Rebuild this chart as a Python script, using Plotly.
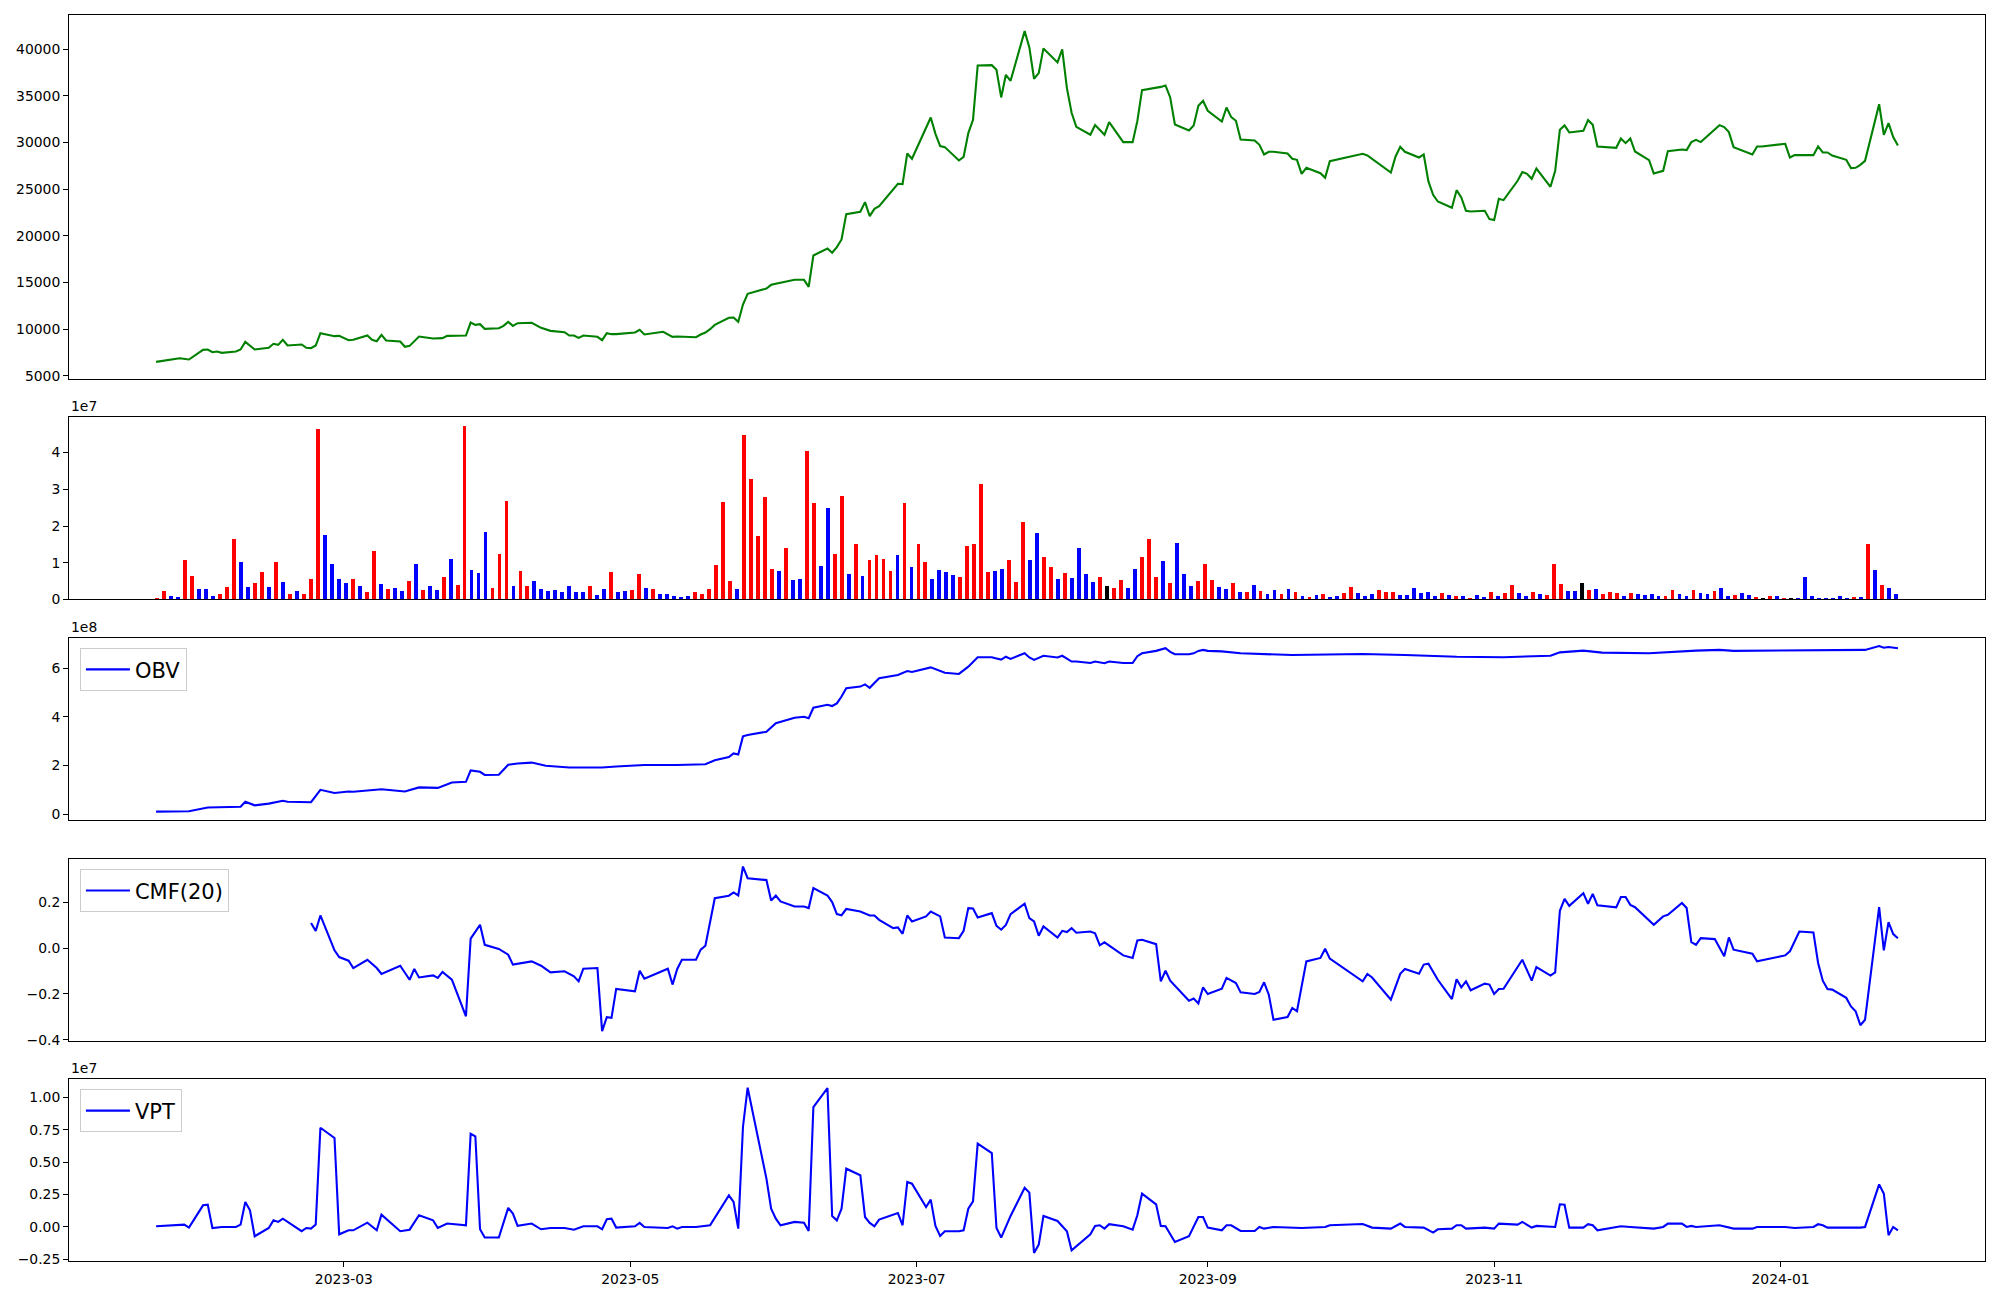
import plotly.graph_objects as go

# ---------------- data ----------------
price_dates = """2023-01-20 2023-01-25 2023-01-27 2023-01-30 2023-01-31 2023-02-01 2023-02-02 2023-02-03 2023-02-06 2023-02-07
2023-02-08 2023-02-10 2023-02-13 2023-02-14 2023-02-15 2023-02-16 2023-02-17 2023-02-20 2023-02-21 2023-02-22
2023-02-23 2023-02-24 2023-02-27 2023-02-28 2023-03-02 2023-03-03 2023-03-06 2023-03-07 2023-03-08 2023-03-09
2023-03-10 2023-03-13 2023-03-14 2023-03-15 2023-03-17 2023-03-20 2023-03-22 2023-03-23 2023-03-27 2023-03-28
2023-03-29 2023-03-30 2023-03-31 2023-04-03 2023-04-04 2023-04-05 2023-04-06 2023-04-07 2023-04-10 2023-04-12
2023-04-14 2023-04-17 2023-04-18 2023-04-19 2023-04-20 2023-04-21 2023-04-24 2023-04-25 2023-04-26 2023-04-27
2023-04-28 2023-05-02 2023-05-03 2023-05-04 2023-05-08 2023-05-10 2023-05-11 2023-05-15 2023-05-16 2023-05-17
2023-05-18 2023-05-19 2023-05-22 2023-05-23 2023-05-24 2023-05-25 2023-05-26 2023-05-30 2023-05-31 2023-06-02
2023-06-05 2023-06-07 2023-06-08 2023-06-09 2023-06-12 2023-06-13 2023-06-14 2023-06-15 2023-06-16 2023-06-19
2023-06-20 2023-06-21 2023-06-22 2023-06-23 2023-06-27 2023-06-28 2023-06-29 2023-06-30 2023-07-04 2023-07-05
2023-07-06 2023-07-07 2023-07-10 2023-07-11 2023-07-12 2023-07-13 2023-07-14 2023-07-17 2023-07-18 2023-07-19
2023-07-20 2023-07-21 2023-07-24 2023-07-25 2023-07-26 2023-07-27 2023-07-28 2023-07-31 2023-08-01 2023-08-02
2023-08-03 2023-08-04 2023-08-07 2023-08-08 2023-08-10 2023-08-11 2023-08-14 2023-08-16 2023-08-17 2023-08-18
2023-08-21 2023-08-22 2023-08-23 2023-08-24 2023-08-25 2023-08-28 2023-08-29 2023-08-30 2023-08-31 2023-09-01
2023-09-04 2023-09-05 2023-09-06 2023-09-07 2023-09-08 2023-09-11 2023-09-12 2023-09-13 2023-09-14 2023-09-15
2023-09-18 2023-09-19 2023-09-20 2023-09-21 2023-09-22 2023-09-25 2023-09-26 2023-09-27 2023-10-04 2023-10-05
2023-10-10 2023-10-11 2023-10-12 2023-10-13 2023-10-16 2023-10-17 2023-10-18 2023-10-19 2023-10-20 2023-10-23
2023-10-24 2023-10-25 2023-10-26 2023-10-27 2023-10-30 2023-10-31 2023-11-01 2023-11-02 2023-11-03 2023-11-06
2023-11-07 2023-11-08 2023-11-09 2023-11-10 2023-11-13 2023-11-14 2023-11-15 2023-11-16 2023-11-17 2023-11-20
2023-11-21 2023-11-22 2023-11-23 2023-11-27 2023-11-28 2023-11-29 2023-11-30 2023-12-01 2023-12-04 2023-12-05
2023-12-07 2023-12-08 2023-12-11 2023-12-12 2023-12-13 2023-12-14 2023-12-15 2023-12-19 2023-12-20 2023-12-21
2023-12-22 2023-12-26 2023-12-27 2023-12-28 2024-01-02 2024-01-03 2024-01-04 2024-01-08 2024-01-09 2024-01-10
2024-01-11 2024-01-12 2024-01-15 2024-01-16 2024-01-17 2024-01-18 2024-01-19 2024-01-22 2024-01-23 2024-01-24
2024-01-25 2024-01-26""".split()

price_close = [
    6500, 6890, 6750, 7785, 7820, 7535, 7600, 7465, 7600, 7820,
    8640, 7820, 8000, 8430, 8320, 8860, 8250, 8360, 8000, 7965,
    8250, 9570, 9250, 9285, 8820, 8860, 9320, 8860, 8710, 9390,
    8785, 8680, 8110, 8210, 9215, 9000, 9035, 9285, 9320, 10710,
    10460, 10535, 10035, 10105, 10355, 10785, 10355, 10640, 10680, 10140,
    9820, 9680, 9320, 9320, 9070, 9320, 9180, 8820, 9570, 9465,
    9465, 9640, 9930, 9430, 9715, 9180, 9215, 9140, 9430, 9640,
    10000, 10460, 11215, 11250, 10785, 12640, 13785, 14355, 14750, 14960,
    15285, 15285, 14535, 17890, 18640, 18180, 18785, 19605, 22320, 22570,
    23605, 22105, 22890, 23175, 25570, 25535, 28820, 28250, 32675, 30925,
    29605, 29500, 28070, 28460, 31000, 32425, 38245, 38280, 37780, 34820,
    37245, 36600, 41925, 40175, 36820, 37425, 40070, 38570, 39960, 35820,
    33175, 31675, 30820, 31855, 30820, 32175, 30030, 30030, 32280, 35600,
    35820, 35950, 36100, 34820, 31925, 31280, 31820, 33925, 34460, 33390,
    32245, 33745, 32710, 32320, 30320, 30210, 29750, 28710, 29000, 29000,
    28820, 28250, 28140, 26640, 27280, 26710, 26210, 28000, 28780, 28600,
    26780, 28500, 29535, 29000, 28390, 28710, 25820, 24390, 23675, 23000,
    24890, 24105, 22680, 22605, 22680, 21785, 21680, 23960, 23820, 25890,
    26820, 26640, 26105, 27210, 25250, 26960, 31355, 31820, 31070, 31245,
    32390, 31890, 29570, 29425, 30425, 29925, 30425, 29030, 28105, 26675,
    26960, 29070, 29250, 29175, 30035, 30280, 30035, 31855, 31640, 31105,
    29500, 28710, 29570, 29570, 29855, 28390, 28640, 28640, 29570, 28925,
    28925, 28600, 28140, 27250, 27280, 27600, 28030, 34100, 30820, 32070,
    30570, 29675,
]

# volume per trading session (units of 1e7), in session order
volume_1e7 = [
    0.055, 0.25, 0.11, 0.08, 1.10, 0.66, 0.30, 0.30, 0.11, 0.16,
    0.36, 1.67, 1.04, 0.36, 0.47, 0.77, 0.36, 1.04, 0.49, 0.16,
    0.25, 0.16, 0.58, 4.66, 1.78, 0.99, 0.58, 0.47, 0.58, 0.38,
    0.22, 1.34, 0.44, 0.30, 0.33, 0.25, 0.52, 0.99, 0.27, 0.38,
    0.27, 0.63, 1.12, 0.41, 4.74, 0.82, 0.74, 1.84, 0.33, 1.26,
    2.68, 0.38, 0.79, 0.38, 0.52, 0.30, 0.25, 0.27, 0.22, 0.38,
    0.22, 0.22, 0.38, 0.14, 0.30, 0.77, 0.22, 0.25, 0.27, 0.71,
    0.33, 0.30, 0.16, 0.16, 0.11, 0.08, 0.11, 0.22, 0.16, 0.30,
    0.96, 2.66, 0.52, 0.30, 4.49, 3.29, 1.73, 2.79, 0.85, 0.79,
    1.42, 0.55, 0.58, 4.05, 2.63, 0.93, 2.49, 1.26, 2.82, 0.71,
    1.51, 0.66, 1.10, 1.21, 1.12, 0.79, 1.23, 2.63, 0.90, 1.51,
    1.04, 0.58, 0.82, 0.77, 0.68, 0.63, 1.48, 1.53, 3.15, 0.77,
    0.79, 0.85, 1.10, 0.49, 2.11, 1.10, 1.81, 1.18, 0.90, 0.58,
    0.74, 0.60, 1.42, 0.71, 0.49, 0.63, 0.38, 0.33, 0.55, 0.33,
    0.85, 1.18, 1.67, 0.63, 1.07, 0.47, 1.56, 0.71, 0.38, 0.52,
    0.99, 0.55, 0.36, 0.30, 0.47, 0.22, 0.22, 0.41, 0.25, 0.16,
    0.27, 0.16, 0.30, 0.22, 0.11, 0.08, 0.14, 0.16, 0.08, 0.11,
    0.19, 0.36, 0.19, 0.11, 0.16, 0.27, 0.22, 0.22, 0.14, 0.14,
    0.33, 0.19, 0.22, 0.11, 0.19, 0.14, 0.11, 0.11, 0.055, 0.14,
    0.08, 0.22, 0.11, 0.19, 0.41, 0.19, 0.11, 0.22, 0.16, 0.14,
    0.99, 0.44, 0.25, 0.25, 0.47, 0.27, 0.30, 0.16, 0.22, 0.19,
    0.11, 0.19, 0.16, 0.14, 0.16, 0.11, 0.11, 0.27, 0.16, 0.11,
    0.27, 0.19, 0.16, 0.25, 0.33, 0.11, 0.14, 0.19, 0.14, 0.08,
    0.055, 0.11, 0.11, 0.055, 0.03, 0.055, 0.63, 0.11, 0.055, 0.055,
    0.055, 0.11, 0.055, 0.08, 0.08, 1.51, 0.82, 0.41, 0.33, 0.16,
]
# session direction: u = close up, d = close down, f = unchanged
volume_dir = "".join([
    "uudduudddu", "uudduududu", "duuuddddud", "uududdudud", "duduuddduu",
    "uduudddddd", "ddudduddu" "u", "duddddduuu", "uuuduuuuud", "udduudduud",
    "uduuuududu", "udddduuuuu", "dduuudduud", "uddddufuud", "duuududddu",
    "uuddududud", "dududududd", "uuddduuudd", "ddddududud", "duduuddudu",
    "uuddfuduuu", "dudddduudd", "uddudduddu", "fudufddddd", "dddudududd",
])

obv_dates = """2023-01-20 2023-01-27 2023-01-31 2023-02-07 2023-02-08 2023-02-10 2023-02-13 2023-02-16 2023-02-17 2023-02-22
2023-02-24 2023-02-27 2023-03-02 2023-03-03 2023-03-09 2023-03-14 2023-03-17 2023-03-21 2023-03-24 2023-03-27
2023-03-28 2023-03-30 2023-03-31 2023-04-03 2023-04-05 2023-04-07 2023-04-10 2023-04-13 2023-04-18 2023-04-25
2023-04-28 2023-05-04 2023-05-11 2023-05-17 2023-05-19 2023-05-22 2023-05-23 2023-05-24 2023-05-25 2023-05-26
2023-05-30 2023-06-01 2023-06-05 2023-06-07 2023-06-08 2023-06-09 2023-06-12 2023-06-13 2023-06-14 2023-06-15
2023-06-16 2023-06-19 2023-06-20 2023-06-21 2023-06-23 2023-06-27 2023-06-29 2023-06-30 2023-07-04 2023-07-07
2023-07-10 2023-07-12 2023-07-14 2023-07-17 2023-07-18 2023-07-19 2023-07-20 2023-07-21 2023-07-24 2023-07-25
2023-07-26 2023-07-27 2023-07-28 2023-07-31 2023-08-01 2023-08-02 2023-08-03 2023-08-04 2023-08-07 2023-08-08
2023-08-10 2023-08-11 2023-08-14 2023-08-16 2023-08-17 2023-08-18 2023-08-21 2023-08-23 2023-08-24 2023-08-25
2023-08-28 2023-08-29 2023-08-30 2023-08-31 2023-09-01 2023-09-04 2023-09-08 2023-09-19 2023-10-04 2023-10-13
2023-10-24 2023-11-03 2023-11-13 2023-11-15 2023-11-20 2023-11-24 2023-12-04 2023-12-14 2023-12-19 2023-12-22
2024-01-08 2024-01-19 2024-01-22 2024-01-23 2024-01-24 2024-01-26""".split()
obv_1e8 = [
    0.10, 0.12, 0.27, 0.30, 0.51, 0.36, 0.43, 0.55, 0.51, 0.49,
    1.00, 0.87, 0.93, 0.92, 1.02, 0.93, 1.10, 1.08, 1.30, 1.33,
    1.80, 1.74, 1.61, 1.62, 2.03, 2.08, 2.12, 1.99, 1.92, 1.92,
    1.96, 2.02, 2.02, 2.05, 2.22, 2.35, 2.50, 2.45, 3.20, 3.26,
    3.39, 3.74, 3.97, 4.01, 3.95, 4.38, 4.50, 4.45, 4.56, 4.84,
    5.18, 5.25, 5.34, 5.20, 5.59, 5.73, 5.89, 5.85, 6.04, 5.82,
    5.77, 6.07, 6.46, 6.46, 6.41, 6.36, 6.48, 6.39, 6.62, 6.45,
    6.35, 6.43, 6.52, 6.45, 6.52, 6.40, 6.28, 6.28, 6.22, 6.28,
    6.21, 6.28, 6.22, 6.22, 6.50, 6.62, 6.72, 6.83, 6.68, 6.58,
    6.58, 6.62, 6.72, 6.76, 6.72, 6.70, 6.62, 6.55, 6.59, 6.55,
    6.48, 6.46, 6.52, 6.66, 6.73, 6.65, 6.62, 6.73, 6.76, 6.72,
    6.76, 6.76, 6.92, 6.85, 6.88, 6.83,
]

cmf_dates = """2023-02-22 2023-02-23 2023-02-24 2023-02-27 2023-02-28 2023-03-02 2023-03-03 2023-03-06 2023-03-08 2023-03-09
2023-03-13 2023-03-15 2023-03-16 2023-03-17 2023-03-20 2023-03-21 2023-03-22 2023-03-24 2023-03-27 2023-03-28
2023-03-30 2023-03-31 2023-04-03 2023-04-05 2023-04-06 2023-04-10 2023-04-12 2023-04-14 2023-04-17 2023-04-19
2023-04-20 2023-04-21 2023-04-24 2023-04-25 2023-04-26 2023-04-27 2023-04-28 2023-05-02 2023-05-03 2023-05-04
2023-05-09 2023-05-10 2023-05-11 2023-05-12 2023-05-15 2023-05-16 2023-05-17 2023-05-19 2023-05-22 2023-05-23
2023-05-24 2023-05-25 2023-05-26 2023-05-30 2023-05-31 2023-06-01 2023-06-02 2023-06-05 2023-06-07 2023-06-08
2023-06-09 2023-06-12 2023-06-13 2023-06-14 2023-06-15 2023-06-16 2023-06-19 2023-06-21 2023-06-22 2023-06-23
2023-06-26 2023-06-27 2023-06-28 2023-06-29 2023-06-30 2023-07-03 2023-07-04 2023-07-06 2023-07-07 2023-07-10
2023-07-11 2023-07-12 2023-07-13 2023-07-14 2023-07-17 2023-07-18 2023-07-19 2023-07-20 2023-07-21 2023-07-24
2023-07-25 2023-07-26 2023-07-27 2023-07-28 2023-07-31 2023-08-01 2023-08-02 2023-08-03 2023-08-04 2023-08-07
2023-08-08 2023-08-09 2023-08-10 2023-08-14 2023-08-16 2023-08-17 2023-08-18 2023-08-21 2023-08-22 2023-08-23
2023-08-24 2023-08-28 2023-08-29 2023-08-30 2023-08-31 2023-09-01 2023-09-04 2023-09-05 2023-09-07 2023-09-08
2023-09-11 2023-09-12 2023-09-13 2023-09-14 2023-09-15 2023-09-18 2023-09-19 2023-09-20 2023-09-22 2023-09-25
2023-09-26 2023-09-27 2023-10-04 2023-10-05 2023-10-06 2023-10-10 2023-10-12 2023-10-13 2023-10-16 2023-10-17
2023-10-18 2023-10-20 2023-10-23 2023-10-24 2023-10-25 2023-10-26 2023-10-27 2023-10-30 2023-10-31 2023-11-01
2023-11-02 2023-11-03 2023-11-07 2023-11-09 2023-11-10 2023-11-13 2023-11-14 2023-11-15 2023-11-16 2023-11-17
2023-11-20 2023-11-21 2023-11-22 2023-11-23 2023-11-27 2023-11-28 2023-11-29 2023-11-30 2023-12-01 2023-12-05
2023-12-07 2023-12-08 2023-12-11 2023-12-12 2023-12-13 2023-12-14 2023-12-15 2023-12-18 2023-12-20 2023-12-21
2023-12-22 2023-12-26 2023-12-27 2024-01-02 2024-01-03 2024-01-04 2024-01-05 2024-01-08 2024-01-09 2024-01-10
2024-01-11 2024-01-12 2024-01-15 2024-01-16 2024-01-17 2024-01-18 2024-01-19 2024-01-22 2024-01-23 2024-01-24
2024-01-25 2024-01-26""".split()
cmf_20 = [
    0.109, 0.075, 0.142, -0.010, -0.039, -0.055, -0.087, -0.051, -0.087, -0.113,
    -0.077, -0.138, -0.091, -0.128, -0.119, -0.130, -0.104, -0.138, -0.297, 0.041,
    0.101, 0.014, -0.004, -0.029, -0.072, -0.058, -0.077, -0.106, -0.101, -0.123,
    -0.145, -0.090, -0.087, -0.362, -0.301, -0.304, -0.178, -0.188, -0.099, -0.133,
    -0.090, -0.159, -0.091, -0.051, -0.051, -0.007, 0.010, 0.217, 0.228, 0.242,
    0.229, 0.355, 0.304, 0.296, 0.207, 0.228, 0.203, 0.181, 0.181, 0.174,
    0.261, 0.229, 0.200, 0.148, 0.143, 0.170, 0.159, 0.142, 0.142, 0.123,
    0.087, 0.090, 0.062, 0.142, 0.116, 0.138, 0.159, 0.138, 0.046, 0.043,
    0.075, 0.174, 0.172, 0.133, 0.152, 0.097, 0.080, 0.101, 0.148, 0.193,
    0.130, 0.116, 0.054, 0.094, 0.046, 0.075, 0.070, 0.087, 0.067, 0.072,
    0.064, 0.012, 0.025, -0.032, -0.043, 0.033, 0.036, 0.017, -0.145, -0.099,
    -0.142, -0.229, -0.220, -0.241, -0.171, -0.200, -0.177, -0.130, -0.152, -0.193,
    -0.200, -0.191, -0.149, -0.203, -0.312, -0.300, -0.261, -0.275, -0.058, -0.043,
    -0.003, -0.046, -0.145, -0.113, -0.128, -0.225, -0.112, -0.091, -0.112, -0.072,
    -0.068, -0.138, -0.222, -0.136, -0.171, -0.145, -0.184, -0.155, -0.159, -0.200,
    -0.178, -0.177, -0.051, -0.142, -0.083, -0.120, -0.106, 0.162, 0.214, 0.184,
    0.239, 0.193, 0.236, 0.186, 0.177, 0.222, 0.222, 0.188, 0.178, 0.101,
    0.138, 0.145, 0.196, 0.174, 0.026, 0.014, 0.043, 0.039, -0.036, 0.046,
    -0.007, -0.025, -0.058, -0.032, -0.014, 0.026, 0.072, 0.068, -0.065, -0.142,
    -0.178, -0.181, -0.217, -0.254, -0.275, -0.336, -0.312, 0.178, -0.010, 0.113,
    0.061, 0.043,
]

vpt_dates = """2023-01-20 2023-01-26 2023-01-27 2023-01-30 2023-01-31 2023-02-01 2023-02-03 2023-02-06 2023-02-07 2023-02-08
2023-02-09 2023-02-10 2023-02-13 2023-02-14 2023-02-15 2023-02-16 2023-02-20 2023-02-21 2023-02-22 2023-02-23
2023-02-24 2023-02-27 2023-02-28 2023-03-02 2023-03-03 2023-03-06 2023-03-08 2023-03-09 2023-03-13 2023-03-15
2023-03-17 2023-03-20 2023-03-21 2023-03-23 2023-03-27 2023-03-28 2023-03-29 2023-03-30 2023-03-31 2023-04-03
2023-04-05 2023-04-06 2023-04-07 2023-04-10 2023-04-12 2023-04-14 2023-04-17 2023-04-19 2023-04-21 2023-04-24
2023-04-25 2023-04-26 2023-04-27 2023-04-28 2023-05-02 2023-05-03 2023-05-04 2023-05-09 2023-05-10 2023-05-11
2023-05-12 2023-05-15 2023-05-18 2023-05-22 2023-05-23 2023-05-24 2023-05-25 2023-05-26 2023-05-30 2023-05-31
2023-06-01 2023-06-02 2023-06-05 2023-06-07 2023-06-08 2023-06-09 2023-06-12 2023-06-13 2023-06-14 2023-06-15
2023-06-16 2023-06-19 2023-06-20 2023-06-21 2023-06-22 2023-06-23 2023-06-27 2023-06-28 2023-06-29 2023-06-30
2023-07-03 2023-07-04 2023-07-05 2023-07-06 2023-07-07 2023-07-10 2023-07-11 2023-07-12 2023-07-13 2023-07-14
2023-07-17 2023-07-18 2023-07-19 2023-07-20 2023-07-21 2023-07-24 2023-07-25 2023-07-26 2023-07-27 2023-07-28
2023-07-31 2023-08-02 2023-08-03 2023-08-07 2023-08-08 2023-08-09 2023-08-10 2023-08-11 2023-08-14 2023-08-16
2023-08-17 2023-08-18 2023-08-21 2023-08-22 2023-08-23 2023-08-25 2023-08-28 2023-08-30 2023-08-31 2023-09-01
2023-09-04 2023-09-05 2023-09-06 2023-09-08 2023-09-11 2023-09-12 2023-09-13 2023-09-15 2023-09-21 2023-09-26
2023-09-27 2023-10-04 2023-10-06 2023-10-10 2023-10-12 2023-10-13 2023-10-17 2023-10-19 2023-10-20 2023-10-23
2023-10-24 2023-10-25 2023-10-26 2023-10-30 2023-11-01 2023-11-02 2023-11-06 2023-11-07 2023-11-09 2023-11-10
2023-11-14 2023-11-15 2023-11-16 2023-11-17 2023-11-20 2023-11-21 2023-11-22 2023-11-23 2023-11-28 2023-11-30
2023-12-05 2023-12-07 2023-12-08 2023-12-11 2023-12-12 2023-12-13 2023-12-14 2023-12-19 2023-12-22 2023-12-26
2023-12-27 2024-01-02 2024-01-04 2024-01-08 2024-01-09 2024-01-10 2024-01-11 2024-01-18 2024-01-19 2024-01-22
2024-01-23 2024-01-24 2024-01-25 2024-01-26""".split()
vpt_1e7 = [
    0.005, 0.018, -0.005, 0.167, 0.172, -0.008, 0.0, 0.0, 0.018, 0.193,
    0.129, -0.072, -0.008, 0.051, 0.039, 0.064, -0.033, -0.008, -0.013, 0.018,
    0.766, 0.687, -0.057, -0.026, -0.026, 0.033, -0.026, 0.095, -0.033, -0.021,
    0.090, 0.051, -0.008, 0.026, 0.013, 0.720, 0.700, -0.018, -0.082, -0.082,
    0.147, 0.103, 0.008, 0.026, -0.018, -0.008, -0.008, -0.021, 0.005, 0.005,
    -0.018, 0.059, 0.064, -0.005, 0.005, 0.031, 0.0, -0.008, 0.005, -0.013,
    0.0, 0.0, 0.013, 0.244, 0.193, -0.013, 0.772, 1.075, 0.373, 0.141,
    0.064, 0.013, 0.039, 0.033, -0.031, 0.926, 1.073, 0.085, 0.051, 0.141,
    0.450, 0.399, 0.077, 0.031, 0.005, 0.057, 0.108, 0.013, 0.347, 0.334,
    0.154, 0.211, 0.008, -0.069, -0.033, -0.033, -0.026, 0.141, 0.198, 0.643,
    0.571, -0.008, -0.082, 0.0, 0.085, 0.303, 0.265, -0.201, -0.136, 0.085,
    0.046, -0.033, -0.180, -0.057, 0.008, 0.013, -0.013, 0.021, 0.005, -0.021,
    0.090, 0.257, 0.175, 0.008, 0.005, -0.116, -0.072, 0.077, 0.077, -0.005,
    -0.026, 0.013, 0.013, -0.031, -0.031, 0.0, -0.013, 0.0, -0.008, 0.0,
    0.013, 0.023, -0.005, -0.013, 0.026, 0.0, -0.005, -0.044, -0.018, -0.013,
    0.013, 0.013, -0.013, -0.005, -0.013, 0.026, 0.018, 0.039, -0.005, 0.008,
    0.0, 0.175, 0.172, -0.005, -0.005, 0.021, 0.013, -0.026, 0.005, 0.0,
    -0.013, 0.0, 0.026, 0.026, 0.0, 0.008, 0.0, 0.013, -0.013, -0.013,
    0.0, 0.0, -0.008, 0.0, 0.021, 0.013, -0.005, -0.005, 0.0, 0.329,
    0.257, -0.064, 0.0, -0.026,
]

price_ticks = [5000, 10000, 15000, 20000, 25000, 30000, 35000, 40000]
x_ticks = ["2023-03-01", "2023-05-01", "2023-07-01", "2023-09-01", "2023-11-01", "2024-01-01"]
x_ticktext = ["2023-03", "2023-05", "2023-07", "2023-09", "2023-11", "2024-01"]

# ---------------- figure ----------------
FONT = "DejaVu Sans"
FS = 13.9
dir_color = {"u": "red", "d": "blue", "f": "black"}
bar_colors = [dir_color[c] for c in volume_dir]
sessions = list(range(len(volume_1e7)))

fig = go.Figure()
fig.add_trace(go.Scatter(x=price_dates, y=price_close, mode="lines",
                         line=dict(color="green", width=2.1), showlegend=False,
                         xaxis="x", yaxis="y"))
fig.add_trace(go.Bar(x=sessions, y=volume_1e7, marker=dict(color=bar_colors, line=dict(width=0)),
                     width=0.55, showlegend=False, xaxis="x2", yaxis="y2"))
fig.add_trace(go.Scatter(x=obv_dates, y=obv_1e8, mode="lines", name="OBV",
                         line=dict(color="blue", width=2.1), xaxis="x3", yaxis="y3",
                         legend="legend"))
fig.add_trace(go.Scatter(x=cmf_dates, y=cmf_20, mode="lines", name="CMF(20)",
                         line=dict(color="blue", width=2.1), xaxis="x4", yaxis="y4",
                         legend="legend2"))
fig.add_trace(go.Scatter(x=vpt_dates, y=vpt_1e7, mode="lines", name="VPT",
                         line=dict(color="blue", width=2.1), xaxis="x5", yaxis="y5",
                         legend="legend3"))

date_range = ["2023-01-01 10:48", "2024-02-13 13:12"]
axis_common = dict(showline=True, linecolor="black", linewidth=1.1, mirror=True,
                   showgrid=False, zeroline=False, ticks="outside", ticklen=4.9,
                   tickwidth=1.1, tickcolor="black",
                   tickfont=dict(family=FONT, size=FS, color="black"))

doms = [(0.7077, 1.0), (0.5309, 0.6777), (0.3539, 0.4998), (0.1767, 0.3223), (0.0, 0.1457)]
PLOT_H = 1245.4

layout = dict(
    width=1984, height=1284, plot_bgcolor="white", paper_bgcolor="white",
    margin=dict(l=61.3, r=7, t=7.3, b=31.3, autoexpand=False), bargap=0, barmode="overlay",
    font=dict(family=FONT, size=FS, color="black"),
)
layout["xaxis"] = dict(axis_common, type="date", range=date_range, anchor="y",
                       showticklabels=False, ticks="", domain=[0, 1])
layout["xaxis2"] = dict(axis_common, type="linear", range=[-12.65, 261.75], anchor="y2",
                        showticklabels=False, ticks="", domain=[0, 1])
layout["xaxis3"] = dict(axis_common, type="date", range=date_range, anchor="y3",
                        showticklabels=False, ticks="", domain=[0, 1])
layout["xaxis4"] = dict(axis_common, type="date", range=date_range, anchor="y4",
                        showticklabels=False, ticks="", domain=[0, 1])
layout["xaxis5"] = dict(axis_common, type="date", range=date_range, anchor="y5",
                        tickvals=x_ticks, ticktext=x_ticktext, domain=[0, 1])
layout["yaxis"] = dict(axis_common, domain=doms[0], range=[4640, 43650], anchor="x",
                       tickvals=price_ticks, ticktext=[str(v) for v in price_ticks])
layout["yaxis2"] = dict(axis_common, domain=doms[1], range=[0, 4.98], anchor="x2",
                        tickvals=[0, 1, 2, 3, 4], ticktext=["0", "1", "2", "3", "4"])
layout["yaxis3"] = dict(axis_common, domain=doms[2], range=[-0.245, 7.24], anchor="x3",
                        tickvals=[0, 2, 4, 6], ticktext=["0", "2", "4", "6"])
layout["yaxis4"] = dict(axis_common, domain=doms[3], range=[-0.404, 0.386], anchor="x4",
                        tickvals=[-0.4, -0.2, 0.0, 0.2],
                        ticktext=["\u22120.4", "\u22120.2", "0.0", "0.2"])
layout["yaxis5"] = dict(axis_common, domain=doms[4], range=[-0.263, 1.139], anchor="x5",
                        tickvals=[-0.25, 0, 0.25, 0.5, 0.75, 1.0],
                        ticktext=["\u22120.25", "0.00", "0.25", "0.50", "0.75", "1.00"])

leg_common = dict(x=0.0057, xanchor="left", yanchor="top", bgcolor="rgba(255,255,255,0.8)",
                  bordercolor="#cccccc", borderwidth=1, itemwidth=44,
                  font=dict(family=FONT, size=21, color="black"))
layout["legend"] = dict(leg_common, y=doms[2][1] - 10 / PLOT_H)
layout["legend2"] = dict(leg_common, y=doms[3][1] - 10 / PLOT_H)
layout["legend3"] = dict(leg_common, y=doms[4][1] - 10 / PLOT_H)

fig.update_layout(**layout)

for txt, top in [("1e7", doms[1][1]), ("1e8", doms[2][1]), ("1e7", doms[4][1])]:
    fig.add_annotation(text=txt, xref="paper", yref="paper", x=0, y=top,
                       xanchor="left", yanchor="bottom", showarrow=False, yshift=1,
                       font=dict(family=FONT, size=FS, color="black"))

fig.write_html("out.html")
